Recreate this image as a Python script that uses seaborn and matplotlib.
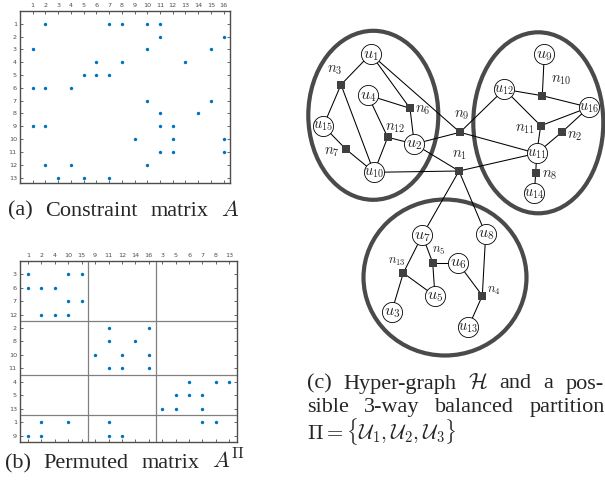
import numpy as np
import pandas as pd
import matplotlib
matplotlib.use("Agg")
import matplotlib.pyplot as plt
from matplotlib.patches import Ellipse
import seaborn as sns

# nonzeros of the constraint matrix A, row i -> columns
A_rows = {
    1: [2, 7, 8, 10, 11],
    2: [11, 16],
    3: [1, 10, 15],
    4: [6, 8, 13],
    5: [5, 6, 7],
    6: [1, 2, 4],
    7: [10, 15],
    8: [11, 14],
    9: [1, 2, 11, 12],
    10: [9, 12, 16],
    11: [11, 12, 16],
    12: [2, 4, 10],
    13: [3, 5, 7],
}
n_rows, n_cols = 13, 16

# permutation from the 3-way partition
row_order = [3, 6, 7, 12, 2, 8, 10, 11, 4, 5, 13, 1, 9]
col_order = [1, 2, 4, 10, 15, 9, 11, 12, 14, 16, 3, 5, 6, 7, 8, 13]
row_blocks = [4, 4, 3, 2]
col_blocks = [5, 5, 6]

sns.set_theme(style="white")
plt.rcParams['mathtext.fontset'] = 'cm'
plt.rcParams['font.family'] = ['Liberation Serif', 'DejaVu Serif']

W, H = 605, 491
fig = plt.figure(figsize=(W / 100, H / 100), dpi=100)

BLUE = '#0072BD'
GRAY = '#4d4d4d'


def px_axes(l, t, r, b):
    return fig.add_axes([l / W, 1 - b / H, (r - l) / W, (b - t) / H])


def style_spy(ax):
    ax.tick_params(direction='in', length=2, width=0.6, color=GRAY,
                   top=True, bottom=True, left=True, right=True,
                   labeltop=True, labelbottom=False, labelsize=4.6,
                   labelcolor=GRAY, pad=2.2)
    for lab in ax.get_xticklabels() + ax.get_yticklabels():
        lab.set_family('DejaVu Sans')
    for s in ax.spines.values():
        s.set_color(GRAY)
        s.set_linewidth(1.0)
    ax.set_xlabel('')
    ax.set_ylabel('')


# background axes in pixel units for the hypergraph and captions
bg = fig.add_axes([0, 0, 1, 1])
bg.set_xlim(0, W)
bg.set_ylim(H, 0)
bg.axis('off')

# (a) spy of A
df_a = pd.DataFrame([(r, c) for r, cs in A_rows.items() for c in cs], columns=['row', 'col'])
ax1 = px_axes(20, 11, 230, 183.3)
sns.scatterplot(data=df_a, x='col', y='row', ax=ax1, color=BLUE, s=6, linewidth=0, legend=False)
ax1.set_xlim(0, n_cols + 0.5)
ax1.set_ylim(n_rows + 0.45, 0)
ax1.set_xticks(range(1, n_cols + 1))
ax1.set_yticks(range(1, n_rows + 1))
style_spy(ax1)

# (b) permuted spy
df_b = df_a.copy()
df_b['row'] = [row_order.index(r) + 1 for r in df_a['row']]
df_b['col'] = [col_order.index(c) + 1 for c in df_a['col']]
ax2 = px_axes(20, 260.7, 236.7, 442.3)
sns.scatterplot(data=df_b, x='col', y='row', ax=ax2, color=BLUE, s=6, linewidth=0, legend=False)
ax2.set_xlim(0.4, n_cols + 0.55)
ax2.set_ylim(n_rows + 0.5, 0)
ax2.set_xticks(range(1, n_cols + 1))
ax2.set_xticklabels(col_order)
ax2.set_yticks(range(1, n_rows + 1))
ax2.set_yticklabels(row_order)
for b in np.cumsum(col_blocks)[:-1]:
    ax2.axvline(b + 0.5, color='#808080', lw=0.9)
for b in np.cumsum(row_blocks)[:-1]:
    ax2.axhline(b + 0.5, color='#808080', lw=0.9)
style_spy(ax2)

# (c) hypergraph, layout in pixels
vpos = {
    1: (370.7, 54), 2: (414.3, 144), 3: (391.7, 311.7), 4: (367.7, 95),
    5: (435, 296), 6: (457.7, 262.7), 7: (422.3, 235.3), 8: (485.7, 234),
    9: (544.3, 54), 10: (374, 172.3), 11: (536.7, 153.3), 12: (504.3, 89.3),
    13: (468.3, 327.3), 14: (534.3, 193.3), 15: (323.3, 126), 16: (589, 107.3),
}
npos = {
    1: (459, 171), 2: (561.7, 132.3), 3: (341, 84.7), 4: (482.3, 295.7),
    5: (432.7, 262.7), 6: (410, 108.3), 7: (345.7, 149), 8: (535.7, 173.3),
    9: (460, 132.3), 10: (542.3, 95.7), 11: (540.7, 125.7), 12: (387.7, 137.3),
    13: (403.3, 273),
}
nlab = {
    1: (460, 155), 2: (575, 136.7), 3: (335, 70), 4: (494.3, 290.7),
    5: (438.3, 250.7), 6: (422.7, 110), 7: (331.7, 152.3), 8: (550, 175.7),
    9: (461.7, 115), 10: (561.7, 80), 11: (525, 129.3), 12: (395, 128.3),
    13: (396.7, 261.7),
}

for e in [((373.3, 115.3), 130, 169), ((538.3, 122.8), 130, 181), ((445, 277.5), 163, 156)]:
    bg.add_patch(Ellipse(e[0], e[1], e[2], fill=False, ec='#4a4a4a', lw=3.0, zorder=1))

for r, cs in A_rows.items():
    for c in cs:
        bg.plot([npos[r][0], vpos[c][0]], [npos[r][1], vpos[c][1]], color='black', lw=0.75, zorder=2)

vdf = pd.DataFrame([(k, x, y) for k, (x, y) in vpos.items()], columns=['id', 'x', 'y'])
ndf = pd.DataFrame([(k, x, y) for k, (x, y) in npos.items()], columns=['id', 'x', 'y'])
sns.scatterplot(data=vdf, x='x', y='y', ax=bg, marker='o', s=210, color='white',
                edgecolor='black', linewidth=0.6, legend=False, zorder=3)
sns.scatterplot(data=ndf, x='x', y='y', ax=bg, marker='s', s=36, color='#404040',
                linewidth=0, legend=False, zorder=3)
bg.set_xlim(0, W)
bg.set_ylim(H, 0)
bg.axis('off')

for k, (x, y) in vpos.items():
    bg.text(x, y + 0.5, '$u_{%d}$' % k, ha='center', va='center', fontsize=11.5 if k < 10 else 10.5, zorder=4)
for k, (x, y) in nlab.items():
    bg.text(x, y, '$n_{%d}$' % k, ha='center', va='center', fontsize=10.5 if k not in (4, 5, 13) else 9, zorder=4)

# captions, justified
renderer = fig.canvas.get_renderer()


def put_line(words, x0, x1, y, size=16, justify=True):
    texts = [bg.text(0, y, w, fontsize=size, va='baseline', ha='left') for w in words]
    widths = [t.get_window_extent(renderer).width for t in texts]
    gap = (x1 - x0 - sum(widths)) / (len(words) - 1) if justify else size * 0.35
    x = x0
    for t, w in zip(texts, widths):
        t.set_x(x)
        x += w + gap


put_line(['(a)', 'Constraint', 'matrix', '$A$'], 8.3, 239.3, 215.7)
put_line(['(b)', 'Permuted', 'matrix', r'$A^{\Pi}$'], 5, 245, 468.3)
put_line(['(c)', 'Hyper-graph', r'$\mathcal{H}$', 'and', 'a', 'pos-'], 306.7, 603.3, 388.5)
put_line(['sible', '3-way', 'balanced', 'partition'], 306.7, 605, 412)
bg.text(306.7, 439.5, r'$\Pi = \{\mathcal{U}_1, \mathcal{U}_2, \mathcal{U}_3\}$', fontsize=15, va='baseline')

fig.savefig('out.png', dpi=100)
